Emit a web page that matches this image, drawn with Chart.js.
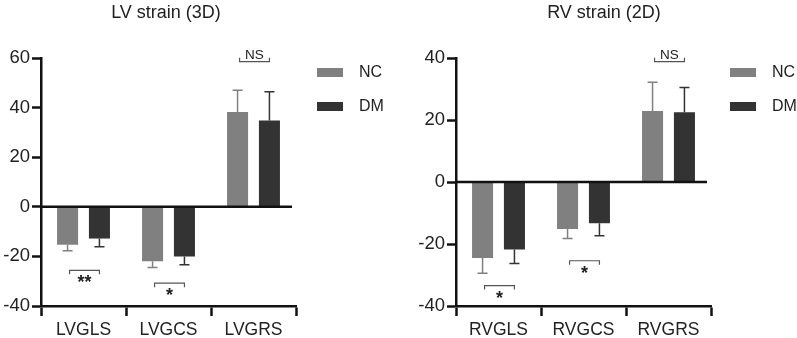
<!DOCTYPE html>
<html>
<head>
<meta charset="utf-8">
<script src="https://cdn.jsdelivr.net/npm/chart.js@4.4.1/dist/chart.umd.min.js"></script>
<style>
  body { margin: 0; background: #fff; }
  #wrap { position: relative; width: 797px; height: 338px; }
  canvas { position: absolute; top: 0; }
</style>
</head>
<body>
<div id="wrap">
  <canvas id="lv_chart" width="400" height="338" style="left:0"></canvas>
  <canvas id="rv_chart" width="397" height="338" style="left:400px"></canvas>
</div>
<script>
// LV strain (3D)
const lvLabels = ['LVGLS', 'LVGCS', 'LVGRS'];
const lvNC = [-15.3, -22.0, 38.2];
const lvNCsd = [2.4, 2.5, 8.8];
const lvDM = [-12.8, -20.0, 34.8];
const lvDMsd = [3.3, 3.4, 11.6];
const lvSigY = [-25.6, -30.8, 58.5];
const lvSigText = ['**', '*', 'NS'];

// RV strain (2D)
const rvLabels = ['RVGLS', 'RVGCS', 'RVGRS'];
const rvNC = [-24.5, -15.2, 22.9];
const rvNCsd = [4.9, 3.0, 9.3];
const rvDM = [-21.8, -13.3, 22.5];
const rvDMsd = [4.5, 4.0, 8.0];
const rvSigY = [-33.4, -25.4, 38.8];
const rvSigText = ['*', '*', 'NS'];

const groupNames = ['NC', 'DM'];
const groupColors = ['#808080', '#333333'];
const FONT = "'Liberation Sans', Arial, sans-serif";

// error bars, zero line, significance brackets, legend and title
const extrasPlugin = {
  id: 'extras',
  afterDatasetsDraw(chart) {
    const o = chart.options.plugins.extras;
    const ctx = chart.ctx;
    const y = chart.scales.y;
    const area = chart.chartArea;
    ctx.save();

    // error bars
    chart.data.datasets.forEach((ds, di) => {
      const meta = chart.getDatasetMeta(di);
      meta.data.forEach((bar, i) => {
        const v = ds.data[i];
        const end = v < 0 ? v - ds.sd[i] : v + ds.sd[i];
        const y1 = y.getPixelForValue(v);
        const y2 = y.getPixelForValue(end);
        ctx.strokeStyle = groupColors[di];
        ctx.lineWidth = 1.5;
        ctx.beginPath();
        ctx.moveTo(bar.x, y1);
        ctx.lineTo(bar.x, y2);
        ctx.moveTo(bar.x - 5, y2);
        ctx.lineTo(bar.x + 5, y2);
        ctx.stroke();
      });
    });

    // zero line
    const y0 = y.getPixelForValue(0);
    ctx.strokeStyle = '#111';
    ctx.lineWidth = 2.5;
    ctx.beginPath();
    ctx.moveTo(area.left, y0);
    ctx.lineTo(area.right - 4, y0);
    ctx.stroke();

    // significance brackets
    const m0 = chart.getDatasetMeta(0).data;
    const m1 = chart.getDatasetMeta(1).data;
    o.sigY.forEach((sv, i) => {
      const yb = y.getPixelForValue(sv);
      const xa = m0[i].x + 2, xb = m1[i].x;
      const dir = sv < 0 ? -1 : 1;
      ctx.strokeStyle = '#555';
      ctx.lineWidth = 1.2;
      ctx.beginPath();
      ctx.moveTo(xa, yb - dir * 4);
      ctx.lineTo(xa, yb);
      ctx.lineTo(xb, yb);
      ctx.lineTo(xb, yb - dir * 4);
      ctx.stroke();
      ctx.fillStyle = '#222';
      ctx.textAlign = 'center';
      const t = o.sigText[i];
      if (t === 'NS') {
        ctx.font = '13.5px ' + FONT;
        ctx.textBaseline = 'alphabetic';
        ctx.fillText(t, (xa + xb) / 2, yb - 3);
      } else {
        ctx.font = 'bold 18px ' + FONT;
        ctx.textBaseline = 'top';
        ctx.fillText(t, (xa + xb) / 2, yb + 4);
      }
    });

    // legend
    ctx.textAlign = 'left';
    ctx.textBaseline = 'middle';
    ctx.font = '16px ' + FONT;
    groupNames.forEach((n, i) => {
      const ly = 68 + i * 34;
      ctx.fillStyle = groupColors[i];
      ctx.fillRect(o.legendX, ly, 26, 9);
      ctx.fillStyle = '#222';
      ctx.fillText(n, o.legendX + 42, ly + 5);
    });

    // title
    ctx.font = '18px ' + FONT;
    ctx.textAlign = 'center';
    ctx.fillStyle = '#222';
    ctx.fillText(o.title, o.titleX, 13);
    ctx.restore();
  }
};

function makeChart(id, labels, nc, ncSd, dm, dmSd, yMin, yMax, sigY, sigText, title, titleX, legendX, axisLeft, padRight) {
  return new Chart(document.getElementById(id), {
    type: 'bar',
    data: {
      labels: labels,
      datasets: [
        { label: groupNames[0], data: nc, sd: ncSd, backgroundColor: groupColors[0] },
        { label: groupNames[1], data: dm, sd: dmSd, backgroundColor: groupColors[1] }
      ]
    },
    options: {
      responsive: false,
      animation: false,
      categoryPercentage: 0.75,
      barPercentage: 0.66,
      layout: { padding: { top: 58, right: padRight, left: 0, bottom: 0 } },
      plugins: {
        legend: { display: false },
        tooltip: { enabled: false },
        extras: { sigY: sigY, sigText: sigText, title: title, titleX: titleX, legendX: legendX }
      },
      scales: {
        x: {
          afterFit: (s) => { s.height = 32; },
          grid: { display: true, drawOnChartArea: false, tickLength: 10, tickWidth: 2.5, tickColor: '#111' },
          border: { display: true, width: 2.5, color: '#111' },
          ticks: { color: '#222', padding: 4, font: { family: FONT, size: 17.5 } }
        },
        y: {
          min: yMin,
          max: yMax,
          afterFit: (s) => { s.width = axisLeft; },
          grid: { display: true, drawOnChartArea: false, tickLength: 9, tickWidth: 2.5, tickColor: '#111' },
          border: { display: true, width: 2.5, color: '#111' },
          ticks: { stepSize: 20, color: '#222', padding: 2, font: { family: FONT, size: 18.5 } }
        }
      }
    },
    plugins: [extrasPlugin]
  });
}

const lvChart = makeChart('lv_chart', lvLabels, lvNC, lvNCsd, lvDM, lvDMsd, -40, 60,
  lvSigY, lvSigText, 'LV strain (3D)', 166, 317, 41, 104);
const rvChart = makeChart('rv_chart', rvLabels, rvNC, rvNCsd, rvDM, rvDMsd, -40, 40,
  rvSigY, rvSigText, 'RV strain (2D)', 204, 330, 56, 86);
</script>
</body>
</html>
